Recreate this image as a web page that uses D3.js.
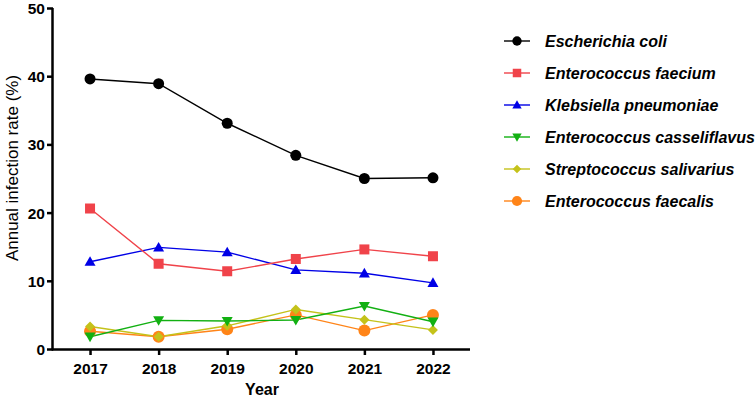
<!DOCTYPE html>
<html><head><meta charset="utf-8">
<script src="https://cdn.jsdelivr.net/npm/d3@7"></script>
<style>
body{margin:0;background:#fff;}
text{font-family:"Liberation Sans",Arial,sans-serif;}
</style></head>
<body><svg id="c" width="755" height="400"></svg>
<script>
const years = [2017, 2018, 2019, 2020, 2021, 2022];
const yTicks = [0, 10, 20, 30, 40, 50];
const seriesNames = ["Escherichia coli","Enterococcus faecium","Klebsiella pneumoniae","Enterococcus casseliflavus","Streptococcus salivarius","Enterococcus faecalis"];
const eColi = [39.6, 38.9, 33.1, 28.4, 25.0, 25.1];
const eFaecium = [20.6, 12.5, 11.4, 13.2, 14.6, 13.6];
const kPneumoniae = [12.8, 14.9, 14.2, 11.6, 11.1, 9.7];
const eCasseliflavus = [1.8, 4.2, 4.1, 4.25, 6.3, 4.0];
const sSalivarius = [3.3, 1.8, 3.4, 5.8, 4.3, 2.8];
const eFaecalis = [2.6, 1.8, 2.9, 5.0, 2.7, 5.0];
const seriesValues = [eColi, eFaecium, kPneumoniae, eCasseliflavus, sSalivarius, eFaecalis];
const colors = ["#000000","#F0434A","#0000E6","#12B012","#C4C21A","#FF8418"];
const symbols = ["circle","square","triangle","triangleDown","diamond","bigCircle"];

const svg = d3.select("#c");
const x = d3.scaleLinear().domain([2016.46, 2022.54]).range([53, 470]);
const y = d3.scaleLinear().domain([0, 50]).range([349, 8]);

function drawSymbol(g, type, cx, cy, color, scale) {
  const s = scale || 1;
  if (type === "circle") {
    g.append("circle").attr("cx", cx).attr("cy", cy).attr("r", 5.5*s).attr("fill", color);
  } else if (type === "bigCircle") {
    g.append("circle").attr("cx", cx).attr("cy", cy).attr("r", 6*s).attr("fill", color);
  } else if (type === "square") {
    const h = 5*s;
    g.append("rect").attr("x", cx-h).attr("y", cy-h).attr("width", 2*h).attr("height", 2*h).attr("fill", color);
  } else if (type === "triangle") {
    const h = 5.5*s;
    g.append("path").attr("d", `M${cx},${cy-h}L${cx+h},${cy+h*0.75}L${cx-h},${cy+h*0.75}Z`).attr("fill", color);
  } else if (type === "triangleDown") {
    const h = 5.5*s;
    g.append("path").attr("d", `M${cx},${cy+h}L${cx+h},${cy-h*0.75}L${cx-h},${cy-h*0.75}Z`).attr("fill", color);
  } else if (type === "diamond") {
    const h = 5*s;
    g.append("path").attr("d", `M${cx},${cy-h}L${cx+h},${cy}L${cx},${cy+h}L${cx-h},${cy}Z`).attr("fill", color);
  }
}

const line = d3.line().x((d,i) => x(years[i])).y(d => y(d));
const order = [5,4,3,2,1,0];
order.forEach(k => {
  svg.append("path").datum(seriesValues[k]).attr("d", line)
    .attr("fill", "none").attr("stroke", colors[k]).attr("stroke-width", 1.4);
});
order.forEach(k => {
  const g = svg.append("g");
  seriesValues[k].forEach((v,i) => drawSymbol(g, symbols[k], x(years[i]), y(v), colors[k], 1));
});

// axes
const xAxis = d3.axisBottom(x).tickValues(years).tickFormat(d3.format("d")).tickSize(6).tickSizeOuter(0);
const gx = svg.append("g").attr("transform", "translate(0,349)").call(xAxis);
const yAxis = d3.axisLeft(y).tickValues(yTicks).tickSize(6).tickSizeOuter(0);
const gy = svg.append("g").attr("transform", "translate(53,0)").call(yAxis);
[gx, gy].forEach(g => {
  g.select(".domain").attr("stroke", "#000").attr("stroke-width", 2.5);
  g.selectAll(".tick line").attr("stroke", "#000").attr("stroke-width", 2.5);
  g.selectAll(".tick text").attr("fill", "#000").style("font-size", "15.5px").style("font-weight", "bold");
});
gx.select(".domain").attr("d", "M51.75,0.5H470");
gy.select(".domain").attr("d", "M-0.5,8V350.25");
gx.selectAll(".tick text").attr("dy", "1.02em");
gy.selectAll(".tick text").attr("x", -8).attr("dy", "0.36em");

svg.append("text").attr("x", 262).attr("y", 395).attr("text-anchor", "middle")
  .style("font-size", "16px").style("font-weight", "bold").text("Year");
svg.append("text").attr("transform", "translate(18,168) rotate(-90)").attr("text-anchor", "middle")
  .style("font-size", "17px").text("Annual infection rate (%)");

// legend
const lg = svg.append("g");
seriesNames.forEach((name, k) => {
  const ly = 41 + k*32;
  lg.append("line").attr("x1", 504).attr("x2", 530).attr("y1", ly).attr("y2", ly)
    .attr("stroke", colors[k]).attr("stroke-width", 1.4);
  drawSymbol(lg, symbols[k], 517, ly, colors[k], 0.85);
  lg.append("text").attr("x", 545).attr("y", ly).attr("dy", "0.36em")
    .style("font-size", "16px").style("font-weight", "bold").style("font-style", "italic")
    .text(name);
});
</script></body></html>
